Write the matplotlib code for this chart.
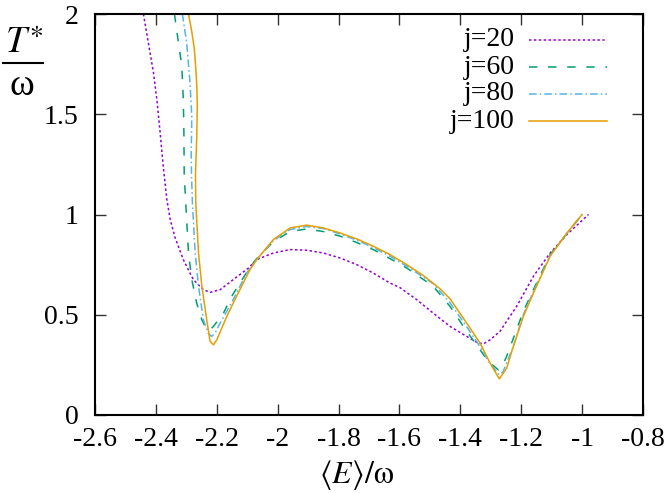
import matplotlib
matplotlib.use('Agg')
import matplotlib.pyplot as plt
from matplotlib.lines import Line2D

plt.rcParams['font.family'] = ['Liberation Serif', 'DejaVu Serif']
plt.rcParams['mathtext.fontset'] = 'stix'
plt.rcParams['axes.unicode_minus'] = False

# ---- data ----
labels = ['j=20', 'j=60', 'j=80', 'j=100']

e_j20 = [-2.441, -2.425, -2.408, -2.397, -2.386, -2.376, -2.364, -2.353, -2.337, -2.310,
         -2.277, -2.244, -2.222, -2.189, -2.146, -2.096, -2.069, -2.014, -1.959, -1.905,
         -1.850, -1.795, -1.740, -1.686, -1.631, -1.598, -1.543, -1.489, -1.434, -1.379,
         -1.346, -1.324, -1.302, -1.270, -1.215, -1.160, -1.105, -1.050, -0.979]
t_j20 = [2.0, 1.858, 1.708, 1.575, 1.408, 1.242, 1.075, 0.975, 0.885, 0.775,
         0.675, 0.625, 0.612, 0.625, 0.675, 0.733, 0.775, 0.808, 0.825, 0.822,
         0.808, 0.783, 0.75, 0.708, 0.658, 0.635, 0.575, 0.508, 0.442, 0.392,
         0.362, 0.355, 0.375, 0.417, 0.542, 0.692, 0.808, 0.9, 1.0]

e_j60 = [-2.339, -2.326, -2.315, -2.310, -2.308, -2.307, -2.299, -2.293, -2.282, -2.266,
         -2.249, -2.233, -2.222, -2.211, -2.178, -2.151, -2.124, -2.093, -2.069, -2.014,
         -1.959, -1.905, -1.850, -1.795, -1.740, -1.686, -1.631, -1.576, -1.489, -1.434,
         -1.379, -1.335, -1.308, -1.275, -1.262, -1.248, -1.193, -1.160, -1.105, -1.050,
         -1.0]
t_j60 = [2.0, 1.858, 1.742, 1.575, 1.408, 1.2, 0.975, 0.808, 0.675, 0.558,
         0.475, 0.425, 0.425, 0.442, 0.508, 0.592, 0.658, 0.733, 0.78, 0.865,
         0.915, 0.928, 0.915, 0.892, 0.86, 0.825, 0.78, 0.733, 0.642, 0.542,
         0.417, 0.325, 0.267, 0.225, 0.245, 0.292, 0.517, 0.625, 0.8, 0.905,
         1.0]

e_j80 = [-2.313, -2.299, -2.288, -2.282, -2.284, -2.283, -2.280, -2.271, -2.260, -2.244,
         -2.228, -2.217, -2.205, -2.189, -2.146, -2.102, -2.069, -2.014, -1.959, -1.905,
         -1.850, -1.795, -1.740, -1.686, -1.631, -1.576, -1.489, -1.434, -1.379, -1.335,
         -1.302, -1.272, -1.260, -1.248, -1.226, -1.193, -1.160, -1.105, -1.050, -1.0]
t_j80 = [2.0, 1.858, 1.658, 1.49, 1.3, 1.2, 1.058, 0.808, 0.642, 0.475,
         0.408, 0.392, 0.41, 0.458, 0.575, 0.708, 0.775, 0.87, 0.925, 0.94,
         0.93, 0.903, 0.872, 0.835, 0.792, 0.742, 0.655, 0.56, 0.44, 0.34,
         0.255, 0.2, 0.215, 0.26, 0.34, 0.5, 0.615, 0.795, 0.905, 1.0]

e_j100 = [-2.293, -2.283, -2.274, -2.268, -2.265, -2.264, -2.266, -2.270, -2.269, -2.260,
          -2.249, -2.233, -2.222, -2.211, -2.200, -2.167, -2.135, -2.091, -2.069, -2.014,
          -1.959, -1.905, -1.850, -1.795, -1.740, -1.686, -1.631, -1.576, -1.521, -1.467,
          -1.434, -1.379, -1.335, -1.302, -1.272, -1.248, -1.226, -1.193, -1.160, -1.105,
          -1.050, -1.0]
t_j100 = [2.0, 1.92, 1.83, 1.708, 1.62, 1.542, 1.375, 1.2, 1.058, 0.808,
          0.642, 0.475, 0.367, 0.35, 0.375, 0.492, 0.592, 0.725, 0.775, 0.875,
          0.933, 0.947, 0.933, 0.908, 0.878, 0.842, 0.8, 0.75, 0.695, 0.63,
          0.58, 0.458, 0.358, 0.258, 0.18, 0.233, 0.342, 0.492, 0.608, 0.792,
          0.908, 1.0]

xticks = [-2.6, -2.4, -2.2, -2.0, -1.8, -1.6, -1.4, -1.2, -1.0, -0.8]
xticklabels = ['-2.6', '-2.4', '-2.2', '-2', '-1.8', '-1.6', '-1.4', '-1.2', '-1', '-0.8']
yticks = [0, 0.5, 1, 1.5, 2]
yticklabels = ['0', '0.5', '1', '1.5', '2']

series = [(e_j20, t_j20), (e_j60, t_j60), (e_j80, t_j80), (e_j100, t_j100)]
colors = ['#9400d3', '#009e73', '#56b4e9', '#e69f00']
styles = [(0, (1.6, 1.6)), (0, (5.5, 7)), (0, (5, 2, 1, 2)), '-']

W, H = 664, 493
fig = plt.figure(figsize=(W / 100, H / 100), dpi=100)
ax = fig.add_axes([95 / W, 78 / H, 548 / W, 401 / H])

for (ex, ty), c, ls in zip(series, colors, styles):
    ax.plot(ex, ty, color=c, linestyle=ls, lw=1.1)

ax.set_xlim(-2.6, -0.8)
ax.set_ylim(0, 2)
ax.set_xticks(xticks)
ax.set_xticklabels(xticklabels)
ax.set_yticks(yticks)
ax.set_yticklabels(yticklabels)
ax.tick_params(direction='in', length=8, width=1, top=True, right=True,
               labelsize=20, color='#333333')
ax.tick_params(axis='x', pad=9)
ax.tick_params(axis='y', pad=12)
for s in ax.spines.values():
    s.set_linewidth(1.5)

# legend (manual, right-aligned labels like the original)
rows = [40, 67, 94, 121]
for lab, c, ls, yp in zip(labels, colors, styles, rows):
    yf = 1 - yp / H
    fig.text(515 / W, yf, lab, ha='right', va='center', fontsize=20)
    fig.add_artist(Line2D([529 / W, 607 / W], [yf, yf], color=c, linestyle=ls, lw=1.1))

# y label as a fraction
fig.text(24 / W, 1 - 53 / H, r'$T^{\ast}$', ha='center', va='baseline', fontsize=27)
fig.add_artist(Line2D([3 / W, 43 / W], [1 - 63 / H] * 2, color='k', lw=1.5))
fig.text(22 / W, 1 - 95 / H, 'ω', ha='center', va='baseline', fontsize=27)

# x label
fig.text(357 / W, 1 - 483 / H, r'$\langle E\rangle/\mathrm{ω}$', ha='center',
         va='baseline', fontsize=23)

fig.savefig('out.png', dpi=100)
